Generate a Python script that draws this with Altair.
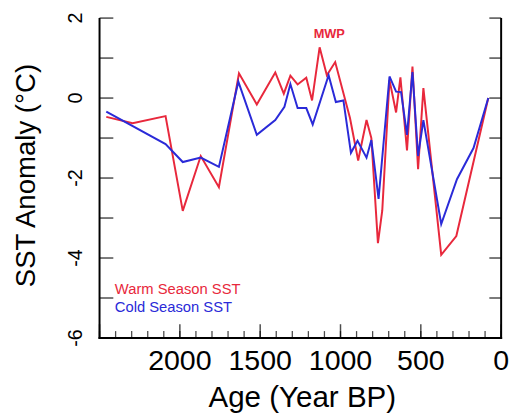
import altair as alt
import pandas as pd

# Warm season (red) series
warm_age = [2458, 2294, 2089, 1982, 1870, 1757, 1632, 1521, 1406, 1353, 1312, 1267, 1213, 1177,
            1130, 1085, 1033, 941, 890, 838, 808, 767, 740, 695, 654, 627, 586, 552, 517, 484,
            373, 279, 80]
warm_sst = [-0.47, -0.63, -0.45, -2.82, -1.45, -2.23, 0.62, -0.16, 0.64, 0.11, 0.56, 0.34, 0.51, -0.06,
            1.27, 0.57, 0.90, -0.50, -1.56, -0.55, -1.00, -3.63, -2.81, 0.45, -0.36, 0.52, -1.31, 0.79, -1.78, 0.25,
            -3.92, -3.45, 0.0]

# Cold season (blue) series
cold_age = [2458, 2089, 1982, 1870, 1757, 1636, 1521, 1406, 1349, 1312, 1267, 1213, 1173, 1074,
            1029, 982, 935, 894, 838, 808, 763, 695, 654, 623, 586, 552, 517, 484, 373, 275, 172, 80]
cold_sst = [-0.34, -1.15, -1.60, -1.49, -1.72, 0.41, -0.92, -0.55, -0.22, 0.35, -0.25, -0.25, -0.66, 0.57,
            -0.10, -0.06, -1.37, -1.07, -1.49, -1.05, -2.52, 0.54, 0.16, 0.15, -0.92, 0.65, -1.45, -0.55,
            -3.15, -2.03, -1.25, 0.0]

series_names = ["Warm Season SST", "Cold Season SST"]
series_colors = ["#e8283c", "#2a2ad8"]

x_label_values = [2000, 1500, 1000, 500, 0]
x_label_text = ["2000", "1500", "1000", "500", "0"]
y_label_values = [2, 0, -2, -4, -6]
y_label_text = ["2", "0", "-2", "-4", "-6"]
y_tick_values = [-6, -5, -4, -3, -2, -1, 0, 1, 2]
x_minor_ticks = list(range(0, 2501, 100))
x_major_ticks = [0, 500, 1000, 1500, 2000, 2500]

x_title = "Age (Year BP)"
y_title = "SST Anomaly (°C)"

annot_text = ["MWP"]
annot_age = [1070]
annot_val = [1.5]

legend_text = ["Warm Season SST", "Cold Season SST"]
legend_age = [2405, 2405]
legend_val = [-4.9, -5.34]

W, H = 408, 325
FONT = "Liberation Sans"

df = pd.concat([
    pd.DataFrame({"age": warm_age, "sst": warm_sst, "series": series_names[0]}),
    pd.DataFrame({"age": cold_age, "sst": cold_sst, "series": series_names[1]}),
])

xscale = alt.Scale(domain=[2500, 0])
yscale = alt.Scale(domain=[-6, 2])
cscale = alt.Scale(domain=series_names, range=series_colors)

lines = alt.Chart(df).mark_line(strokeWidth=2).encode(
    x=alt.X("age:Q", scale=xscale, axis=None),
    y=alt.Y("sst:Q", scale=yscale, axis=None),
    color=alt.Color("series:N", scale=cscale, legend=None),
    detail="series:N",
)

yt = pd.DataFrame({"v": y_tick_values})
left_ticks = alt.Chart(yt).mark_tick(color="black", thickness=1.5, size=14, orient="horizontal").encode(
    y=alt.Y("v:Q", scale=yscale, axis=None), x=alt.value(7))
right_ticks = alt.Chart(yt).mark_tick(color="black", thickness=1.5, size=12, orient="horizontal").encode(
    y=alt.Y("v:Q", scale=yscale, axis=None), x=alt.value(W - 6))

frame = pd.DataFrame({"k": [0]})
left_border = alt.Chart(frame).mark_rule(color="black", strokeWidth=2).encode(
    x=alt.value(0), y=alt.value(0), y2=alt.value(H + 1))
right_border = alt.Chart(frame).mark_rule(color="black", strokeWidth=2).encode(
    x=alt.value(W), y=alt.value(0), y2=alt.value(H + 1))
bottom_border = alt.Chart(frame).mark_rule(color="black", strokeWidth=2).encode(
    y=alt.value(H), x=alt.value(-1), x2=alt.value(W + 1))

minor = alt.Chart(pd.DataFrame({"a": x_minor_ticks})).mark_tick(
    color="black", thickness=1.3, size=7, orient="vertical").encode(
    x=alt.X("a:Q", scale=xscale, axis=None), y=alt.value(H - 3.5))
major = alt.Chart(pd.DataFrame({"a": x_major_ticks})).mark_tick(
    color="black", thickness=1.5, size=14, orient="vertical").encode(
    x=alt.X("a:Q", scale=xscale, axis=None), y=alt.value(H - 7))

xlab = alt.Chart(pd.DataFrame({"a": x_label_values, "t": x_label_text})).mark_text(
    font=FONT, fontSize=29, color="black", align="center", baseline="top").encode(
    x=alt.X("a:Q", scale=xscale, axis=None), y=alt.value(H + 10), text="t:N")
ylab = alt.Chart(pd.DataFrame({"v": y_label_values, "t": y_label_text})).mark_text(
    font=FONT, fontSize=20, color="black", align="center", baseline="bottom", angle=270).encode(
    y=alt.Y("v:Q", scale=yscale, axis=None), x=alt.value(-14), text="t:N")

xtitle = alt.Chart(pd.DataFrame({"t": [x_title]})).mark_text(
    font=FONT, fontSize=30, color="black", align="center", baseline="alphabetic").encode(
    x=alt.value(W / 2 + 2), y=alt.value(H + 70), text="t:N")
ytitle = alt.Chart(pd.DataFrame({"t": [y_title]})).mark_text(
    font=FONT, fontSize=28, color="black", align="center", baseline="middle", angle=270).encode(
    x=alt.value(-74), y=alt.value(160), text="t:N")

mwp = alt.Chart(pd.DataFrame({"t": annot_text, "a": annot_age, "v": annot_val})).mark_text(
    font=FONT, fontSize=13, fontWeight="bold", color="#e8283c", align="center", baseline="alphabetic"
).encode(x=alt.X("a:Q", scale=xscale, axis=None), y=alt.Y("v:Q", scale=yscale, axis=None), text="t:N")

leg = alt.Chart(pd.DataFrame({"t": legend_text, "a": legend_age, "v": legend_val, "series": series_names})).mark_text(
    font=FONT, fontSize=15, align="left", baseline="alphabetic"
).encode(x=alt.X("a:Q", scale=xscale, axis=None), y=alt.Y("v:Q", scale=yscale, axis=None), text="t:N",
         color=alt.Color("series:N", scale=cscale, legend=None))

chart = alt.layer(lines, left_ticks, right_ticks, minor, major, left_border, right_border, bottom_border,
                  xlab, ylab, xtitle, ytitle, mwp, leg).properties(
    width=W, height=H,
    autosize=alt.AutoSizeParams(type="none"),
    padding={"left": 93, "top": 7, "right": 9, "bottom": 76},
).configure_view(stroke=None)

chart.save("out.html", embed_options={"renderer": "svg", "actions": False})
